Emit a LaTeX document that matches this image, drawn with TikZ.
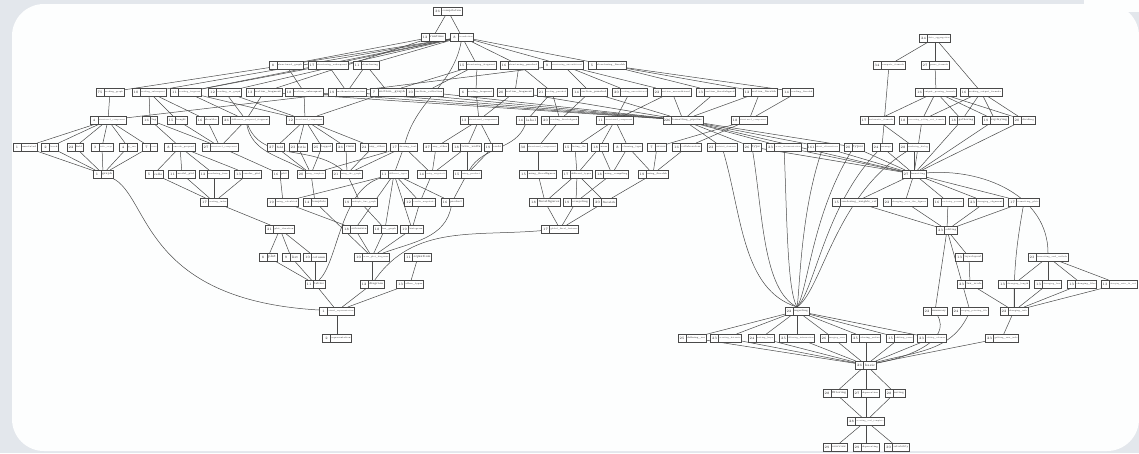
\documentclass[tikz,border=0pt]{standalone}
\usepackage{graphicx}
\usetikzlibrary{calc}
\pgfdeclarelayer{back}\pgfdeclarelayer{edges}\pgfsetlayers{back,edges,main}
\definecolor{pagebg}{HTML}{E3E7EC}
\definecolor{cardbg}{HTML}{FDFEFE}
\definecolor{ink}{HTML}{4A4A4A}
\newsavebox\lbbox
\newcommand\lbfont{\fontsize{3.4}{3.8}\selectfont}
\newcommand\fitlabel[2]{\sbox\lbbox{\lbfont #2}\ifdim\wd\lbbox>#1\relax\resizebox{#1}{!}{\usebox\lbbox}\else\usebox\lbbox\fi}
\newcommand\nd[6]{%
 \node[nbox, minimum width=#4pt] (#1) at (#2,-#3) {};
 \draw[nsep] ([xshift=8pt]#1.north west) -- ([xshift=8pt]#1.south west);
 \node[ntext] (#1-n) at ([xshift=4pt]#1.west) {\lbfont #5};
 \pgfmathsetmacro\availw{#4-10}%
 \node[ntext] (#1-l) at ([xshift=4pt]#1.center) {\fitlabel{\availw pt}{#6}};
}
\newcommand\E[2]{\foreach \t in {#2}{\draw[edge] (#1) -- (\t);}}
\begin{document}
\begin{tikzpicture}[x=1pt,y=1pt,
  nbox/.style={draw=ink, fill=white, line width=0.5pt, minimum height=8pt, inner sep=0pt, outer sep=0pt},
  nsep/.style={draw=ink, line width=0.45pt},
  ntext/.style={inner sep=0pt, text=black!85},
  edge/.style={draw=ink, line width=0.5pt}]
\useasboundingbox (0,0) rectangle (1139,-453);
\begin{pgfonlayer}{back}
\fill[pagebg] (0,0) rectangle (1139,-453);
\fill[cardbg, rounded corners=32pt] (12,-4) rectangle (1139,-451);
\fill[cardbg] (1084,0) rectangle (1139,-12);
\end{pgfonlayer}
% top
\nd{n36}{448}{11}{29}{36}{compilation}
\nd{n12r}{433}{37}{24}{12}{runtime}
\nd{nT}{462}{37}{23}{8}{translation}
% row S
\nd{S1}{286}{65}{34}{8}{structured\_graph}
\nd{S2}{328}{65}{40}{17}{structuring\_subsequent}
\nd{S3}{366}{65}{26}{11}{structuring}
\nd{S4}{477}{65}{38}{15}{structuring\_fragment}
\nd{S5}{519}{65}{38}{16}{structuring\_punched}
\nd{S6}{563}{65}{40}{9}{structuring\_unconditional}
\nd{S7}{607}{65}{38}{5}{structuring\_fiscalsh}
% row R
\nd{R1}{110}{92}{28}{75}{reading\_graph}
\nd{R2}{149}{92}{34}{10}{reading\_subsequent}
\nd{R3}{186}{92}{31}{11}{reading\_fragment}
\nd{R4}{225}{92}{33}{12}{reading\_as\_graph}
\nd{R5}{264}{92}{36}{13}{section\_fragment}
\nd{R6}{304}{92}{38}{18}{section\_subsequent}
\nd{R7}{347}{92}{38}{19}{mathematical\_section}
\nd{R8}{388}{92}{36}{7}{section\_graph}
\nd{R9}{425}{92}{37}{10}{section\_collection}
\nd{R10}{476}{92}{34}{6}{reading\_fragment}
\nd{R11}{515}{92}{36}{20}{section\_fragment}
\nd{R12}{552}{92}{30}{21}{reading\_punched}
\nd{R13}{590}{92}{35}{14}{section\_punched}
\nd{R14}{630}{92}{35}{20}{reading\_unconditional}
\nd{R15}{672}{92}{38}{22}{section\_unconditional}
\nd{R16}{716}{92}{39}{13}{section\_fiscalaligned}
\nd{R17}{760}{92}{34}{12}{section\_fiscalsh}
\nd{R18}{798}{92}{31}{14}{reading\_fiscalsh}
% right graph top
\nd{RG1}{935}{38}{31}{24}{data\_aggregation}
\nd{RG2}{889}{65}{32}{34}{compute\_formula}
\nd{RG3}{935}{65}{28}{27}{parse\_formula}
\nd{RG4}{936}{92}{41}{16}{output\_parsing\_formula}
\nd{RG5}{981}{92}{42}{16}{reading\_output\_formula}
\nd{F1}{877}{120}{34}{17}{automatic\_formula}
\nd{F2}{922}{120}{46}{18}{converting\_polling\_and\_formula}
\nd{F3}{962}{120}{25}{18}{gathering}
\nd{F4}{995}{120}{26}{19}{replaying}
\nd{F5}{1024}{120}{22}{20}{dividing}
% row C
\nd{C1}{108}{120}{36}{4}{structured\_component}
\nd{C2}{150}{120}{15}{16}{tag}
\nd{C3}{177}{120}{20}{15}{bought}
\nd{C4}{207}{120}{22}{16}{shoulder}
\nd{C5}{246}{120}{47}{26}{difference\_proposal\_fragment}
\nd{C6}{305}{120}{37}{12}{structured\_component}
\nd{C7}{479}{120}{38}{13}{structured\_component}
\nd{C8}{527}{120}{21}{14}{label}
\nd{C9}{560}{120}{37}{20}{reading\_fiscalaligned}
\nd{C10}{615}{120}{37}{11}{structured\_component}
\nd{C11}{683}{120}{40}{226}{formatting\_pipeline}
\nd{C12}{749}{120}{36}{18}{structured\_component}
% row D
\nd{D1}{25}{147}{24}{1}{annotated}
\nd{D2}{50}{147}{17}{2}{teach}
\nd{D3}{75}{147}{16}{22}{field}
\nd{D4}{102}{147}{22}{3}{table\_steps}
\nd{D5}{128}{147}{18}{4}{y\_err}
\nd{D6}{150}{147}{15}{7}{case}
\nd{D7}{180}{147}{31}{8}{encode\_proposal}
\nd{D8}{220}{147}{36}{27}{structured\_component}
\nd{D9}{276}{147}{17}{27}{fold}
\nd{D10}{298}{147}{18}{23}{title}
\nd{D11}{322}{147}{20}{25}{tagged}
\nd{D12}{346}{147}{19}{26}{case}
\nd{D13}{373}{147}{26}{24}{any\_other}
\nd{D14}{404}{147}{27}{17}{sharing\_text}
\nd{D15}{436}{147}{25}{27}{any\_other}
\nd{D16}{467}{147}{29}{18}{table\_width}
\nd{D17}{493}{147}{18}{19}{cards}
\nd{D18}{538}{147}{38}{38}{structured\_component}
\nd{D19}{575}{147}{24}{15}{listing\_tbc}
\nd{D20}{600}{147}{17}{18}{users}
\nd{D21}{628}{147}{29}{8}{cleaning\_type}
\nd{D22}{657}{147}{19}{7}{errors}
\nd{D23}{687}{147}{29}{16}{collaborators}
\nd{D24}{722}{147}{30}{23}{isolated\_elements}
\nd{D25}{752}{147}{18}{26}{type}
\nd{D26}{784}{147}{35}{23}{error\_documentation}
\nd{D27}{823}{147}{32}{161}{chart\_alternatives}
\nd{D28}{854}{147}{20}{20}{types}
\nd{D29}{882}{147}{20}{24}{arrange}
\nd{D30}{914}{147}{30}{28}{rendering\_dialog}
% row E
\nd{E1}{103}{174}{20}{1}{graph}
\nd{E2}{154}{174}{18}{5}{cells}
\nd{E3}{182}{174}{27}{11}{model\_plot}
\nd{E4}{214}{174}{30}{12}{rendering\_func}
\nd{E5}{248}{174}{27}{13}{render\_plot}
\nd{E6}{280}{174}{16}{16}{plot}
\nd{E7}{311}{174}{28}{20}{using\_template}
\nd{E8}{347}{174}{30}{21}{using\_the\_graph}
\nd{E9}{394}{174}{28}{11}{different\_types}
\nd{E10}{432}{174}{29}{14}{using\_magnitude}
\nd{E11}{467}{174}{28}{15}{using\_product}
\nd{E12}{538}{174}{37}{15}{using\_fiscalfigures}
\nd{E13}{577}{174}{30}{17}{different\_types}
\nd{E14}{612}{174}{33}{18}{using\_compiling}
\nd{E15}{653}{174}{30}{19}{using\_fiscalsh}
\nd{FM}{914}{174}{24}{27}{formatting}
% row G
\nd{G1}{214}{202}{27}{17}{sorting\_index}
\nd{G2}{283}{202}{31}{19}{using\_calculated}
\nd{G3}{315}{202}{24}{14}{template}
\nd{G4}{360}{202}{34}{19}{multiple\_line\_graph}
\nd{G5}{420}{202}{31}{12}{results\_magnitude}
\nd{G6}{452}{202}{22}{16}{product}
\nd{G7}{545}{202}{31}{18}{fiscalfigures}
\nd{G8}{576}{202}{26}{19}{compiling}
\nd{G9}{605}{202}{23}{20}{fiscalsh}
\nd{H1}{855}{202}{45}{15}{rendering\_weights\_ref}
\nd{H2}{905}{202}{44}{22}{changing\_over\_the\_figures}
\nd{H3}{948}{202}{30}{16}{rendering\_params}
\nd{H4}{986}{202}{35}{23}{changing\_alignment}
\nd{H5}{1024}{202}{31}{17}{formatting\_plots}
% row I
\nd{I1}{280}{229}{29}{21}{plot\_iteration}
\nd{I2}{355}{229}{25}{18}{extension}
\nd{I3}{385}{229}{24}{18}{bar\_graph}
\nd{I4}{412}{229}{23}{19}{histogram}
\nd{I5}{560}{229}{37}{17}{global\_fiscal\_features}
\nd{ED}{947}{230}{21}{23}{editing}
% row J
\nd{J1}{268}{257}{18}{8}{plot}
\nd{J2}{291}{257}{18}{9}{list}
\nd{J3}{315}{257}{23}{10}{column}
\nd{J4}{372}{257}{35}{10}{error\_plot\_diagrams}
\nd{J5}{418}{257}{27}{11}{equation}
\nd{K1}{969}{257}{27}{13}{layerlayout}
\nd{K2}{1048}{257}{40}{23}{formatting\_and\_outlook}
% row L
\nd{L1}{315}{284}{20}{11}{tables}
\nd{L2}{372}{284}{24}{12}{diagram}
\nd{L3}{410}{284}{27}{13}{other\_types}
\nd{M1}{970}{284}{25}{23}{lux\_scale}
\nd{M2}{1014}{284}{31}{13}{changing\_length}
\nd{M3}{1048}{284}{27}{13}{changing\_loss}
\nd{M4}{1082}{284}{29}{13}{changing\_files}
\nd{M5}{1119}{284}{36}{13}{changing\_units\_fit\_and}
% row P
\nd{P1}{337}{311}{35}{1}{visual\_representation}
\nd{IN}{797}{311}{24}{22}{ingesting}
\nd{Q1}{935}{311}{24}{22}{summary}
\nd{Q2}{970}{311}{36}{24}{ranging\_pointing\_file}
\nd{Q3}{1014}{311}{28}{22}{changing\_info}
% row T
\nd{P2}{337}{338}{29}{2}{representation}
\nd{T1}{692}{338}{28}{25}{defining\_res}
\nd{T2}{726}{338}{31}{23}{creating\_datasets}
\nd{T3}{761}{338}{26}{24}{sorting\_keys}
\nd{T4}{797}{338}{35}{25}{filtering\_information}
\nd{T5}{833}{338}{26}{26}{merging\_rows}
\nd{T6}{866}{338}{29}{25}{storing\_notes}
\nd{T7}{900}{338}{27}{15}{editing\_rows}
\nd{T8}{932}{338}{29}{23}{editing\_columns}
\nd{Q4}{1002}{338}{33}{23}{getting\_raw\_info}
% bottom
\nd{BS}{866}{365}{21}{26}{basic}
\nd{U1}{835}{393}{24}{28}{filtering}
\nd{U2}{866}{393}{26}{27}{deprecation}
\nd{U3}{895}{393}{20}{28}{saving}
\nd{CE}{866}{421}{37}{28}{creating\_eval\_template}
\nd{V1}{835}{447}{24}{29}{overview}
\nd{V2}{866}{447}{26}{29}{deprecating}
\nd{V3}{897}{447}{25}{30}{reliability}

\begin{pgfonlayer}{edges}
\E{n36}{n12r,nT}
\E{nT}{S1,S2,S3,S4,S5,S6,S7,R2,R3,R4}
\E{n12r}{S1,R5}
\E{S1}{R1,R6}
\E{S2}{R7,R3}
\E{S3}{R7,R8}
\E{S4}{R10,R8,R9}
\E{S5}{R11,R12}
\E{S6}{R13,R14,R15,R7}
\E{S7}{R16,R17,R18}
\E{R1}{C1}
\E{R2}{C2,C3,C4}
\E{R3}{C5,C6}
\E{R4}{C5,C6}
\E{R5}{C5,C11}
\E{R6}{C6,C11}
\E{R7}{C1,C11}
\E{R8}{C11,C6}
\E{R9}{C11}
\E{R10}{C7}
\E{R11}{C7,C11}
\E{R12}{C8,C9}
\E{R13}{C9,C11}
\E{R14}{C10}
\E{R15}{C10,C11}
\E{R16}{C11}
\E{R17}{C11,C12}
\E{R18}{C12}
\E{C1}{D1,D2,D3,D4,D5,D6}
\E{C2}{D7,D8}
\E{C3}{D8}
\E{C4}{D8}
\E{C5}{D8}
\E{C6}{D9,D10,D11,D12,D13}
\E{C7}{D15,D16,D17}
\E{C9}{D18}
\E{C10}{D19,D20,D21}
\E{C11}{D24,D25,D26,D27,D28,FM}
\E{C12}{D22,D23}
\E{D1}{E1}\E{D2}{E1}\E{D3}{E1}\E{D4}{E1}\E{D5}{E1}\E{D6}{E1}
\E{D7}{E2,E3,E4,E5}
\E{D8}{E6}
\E{D9}{E7}\E{D10}{E7}\E{D11}{E7}
\E{D12}{E8}\E{D13}{E8}
\E{D14}{E7,E8,E9,E10}
\E{D15}{E10}
\E{D16}{E10,E11}
\E{D17}{E11}
\E{D18}{E12}
\E{D19}{E13}\E{D20}{E13,E14}\E{D21}{E14,E15}\E{D22}{E15}\E{D23}{E15}
\E{D25}{FM}\E{D26}{FM}\E{D27}{FM}\E{D28}{FM}\E{D29}{FM}\E{D30}{FM}
\E{RG1}{RG2,RG3,RG5}
\E{RG3}{RG4}
\E{RG2}{D29}
\E{RG4}{F1,F2,F3,F4,F5}
\E{RG5}{F2,F3,F4,F5}
\E{F1}{D30}
\E{F2}{FM}\E{F3}{FM}\E{F4}{FM}\E{F5}{FM}
\E{E2}{G1}\E{E3}{G1}\E{E4}{G1}\E{E5}{G1}
\E{E6}{G2}
\E{E7}{G3}
\E{E8}{G4}
\E{E9}{G2,I2,I3,I4,G5,G6}
\E{E10}{G5}
\E{E11}{G6}
\E{E12}{G7}
\E{E13}{G7,G8,G9}
\E{E14}{G8}
\E{E15}{G9}
\E{G1}{I1}
\E{G2}{I2}
\E{G3}{J4}
\E{G4}{I3}
\E{G5}{I4}
\E{G7}{I5}\E{G8}{I5}\E{G9}{I5}
\E{I1}{J1,J2,J3}
\E{I2}{J4}\E{I3}{J4}\E{I4}{J4}
\E{J1}{L1}\E{J2}{L1}\E{J3}{L1}
\E{J4}{L2}
\E{J5}{L3}
\E{L1}{P1}\E{L2}{P1}\E{L3}{P1}
\E{P1}{P2}
\E{FM}{H1,H2,H3,H4,H5}
\E{H1}{ED}\E{H2}{ED}\E{H3}{ED}\E{H4}{ED}\E{H5}{ED}
\E{ED}{K1,Q1,Q2}
\E{K1}{M1}
\E{K2}{M2,M3,M4,M5}
\E{M1}{Q3}\E{M2}{Q3}\E{M3}{Q3}\E{M4}{Q3}\E{M5}{Q3}
\E{Q3}{Q4}
\E{Q4}{BS}
\E{IN}{T1,T2,T3,T4,T5,T6,T7,T8}
\E{T1}{BS}\E{T2}{BS}\E{T3}{BS}\E{T4}{BS}\E{T5}{BS}\E{T6}{BS}\E{T7}{BS}\E{T8}{BS}
\E{BS}{U1,U2,U3}
\E{U1}{CE}\E{U2}{CE}\E{U3}{CE}
\E{CE}{V1,V2,V3}
% curved connectors
\draw[edge] (nT) to[out=-100,in=75] (D14);
\draw[edge] (E1) .. controls (150,-195) and (140,-300) .. (P1);
\draw[edge] (C5) to[out=-80,in=150] (E7);
\draw[edge] (C5) to[out=-70,in=140] (E8);
\draw[edge] (C8) to[out=-110,in=60] (E11);
\draw[edge] (E9) .. controls (340,-190) and (338,-262) .. (L1);
\draw[edge] (G6) to[out=-100,in=20] (J4);
\draw[edge] (I5) to[out=185,in=55] (L2);
\draw[edge] (FM) to[out=5,in=90] (K2);
\draw[edge] (H5) to[out=-100,in=90] (Q3);
\draw[edge] (Q1) to[out=-60,in=10] (BS);
\draw[edge] (Q2) to[out=-115,in=15] (BS);
% ingesting bundle
\draw[edge] (D24) .. controls (742,-215) and (742,-290) .. (IN.north);
\draw[edge] (D25) .. controls (763,-215) and (763,-290) .. (IN.north);
\draw[edge] (D26) .. controls (787,-215) and (787,-290) .. (IN.north);
\draw[edge] (D27) .. controls (800,-215) and (800,-290) .. (IN.north);
\draw[edge] (D28) .. controls (812,-215) and (808,-290) .. (IN.north);
\draw[edge] (D29) .. controls (825,-205) and (815,-290) .. (IN.north);
\draw[edge] (D30) .. controls (835,-195) and (822,-290) .. (IN.north);
\end{pgfonlayer}
\end{tikzpicture}
\end{document}
